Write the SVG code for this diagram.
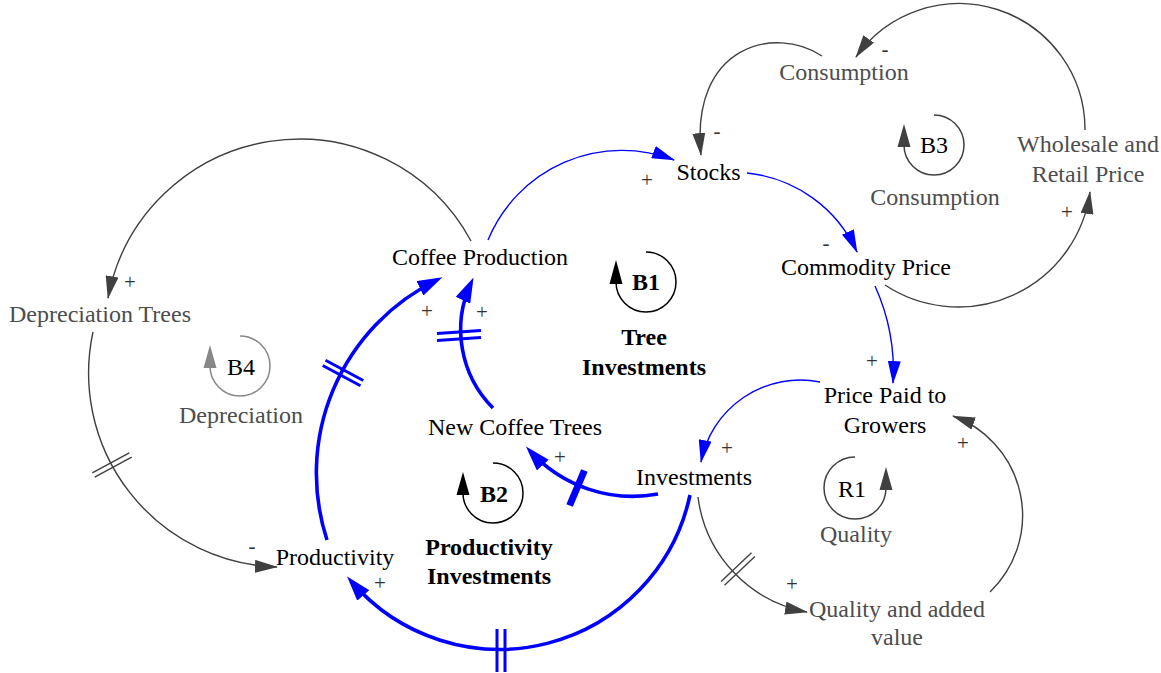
<svg xmlns="http://www.w3.org/2000/svg" width="1161" height="673" viewBox="0 0 1161 673">
<style>
text{font-family:"Liberation Serif","Times New Roman",serif;font-size:24px;text-anchor:middle}
.n{fill:#000}
.g{fill:#4d4d4d}
.b{font-weight:bold;fill:#000}
.pol{font-size:21px;fill:#333}
.cg{fill:none;stroke:#404040;stroke-width:1.4}
.cb{fill:none;stroke:#0000ff;stroke-width:1.4}
.ct{fill:none;stroke:#0000ff;stroke-width:3.6}
.hg{stroke:#404040;stroke-width:1.4}
.hb{stroke:#0000ff;stroke-width:3}
.lp{fill:none;stroke-width:1.5}
</style>
<defs>
<marker id="ag" markerUnits="userSpaceOnUse" markerWidth="23" markerHeight="13" refX="22" refY="6.5" orient="auto"><path d="M0,0 L23,6.5 L0,13 z" fill="#404040"/></marker>
<marker id="ab" markerUnits="userSpaceOnUse" markerWidth="23" markerHeight="13" refX="22" refY="6.5" orient="auto"><path d="M0,0 L23,6.5 L0,13 z" fill="#0000ff"/></marker>
<marker id="at" markerUnits="userSpaceOnUse" markerWidth="25" markerHeight="16" refX="19" refY="8" orient="auto"><path d="M0,0 L25,8 L0,16 z" fill="#0000ff"/></marker>
</defs>

<g id="connectors">
<path class="cg" d="M822,56 C775,25 690,45 701,155" marker-end="url(#ag)"/>
<path class="cg" d="M1085,130 A126,126 0 0 0 856,57" marker-end="url(#ag)"/>
<path class="cg" d="M885,285 A133,133 0 0 0 1090,192" marker-end="url(#ag)"/>
<path class="cg" d="M471,241 A195,195 0 0 0 108,298" marker-end="url(#ag)"/>
<path class="cg" d="M93,332 A194,194 0 0 0 277,567" marker-end="url(#ag)"/>
<path class="cg" d="M698,497 A134,134 0 0 0 807,612" marker-end="url(#ag)"/>
<path class="cg" d="M990,592 A106,106 0 0 0 953,416" marker-end="url(#ag)"/>
<path class="cb" d="M488,240 A145,145 0 0 1 674,160" marker-end="url(#ab)"/>
<path class="cb" d="M747,173 A136,136 0 0 1 857,252" marker-end="url(#ab)"/>
<path class="cb" d="M875,286 A205,205 0 0 1 893,383" marker-end="url(#ab)"/>
<path class="cb" d="M820,382 A101,101 0 0 0 701,462" marker-end="url(#ab)"/>
<path class="ct" d="M327,540 A215,215 0 0 1 437,280" marker-end="url(#at)"/>
<path class="ct" d="M493,408 A111,111 0 0 1 471,283" marker-end="url(#at)"/>
<path class="ct" d="M658,494 A139,139 0 0 1 530,451" marker-end="url(#at)"/>
<path class="ct" d="M690,495 A195,195 0 0 1 351,581" marker-end="url(#at)"/>
<!-- delay marks -->
<line class="hg" x1="129.3" y1="452.8" x2="92.3" y2="472.8"/>
<line class="hg" x1="131.7" y1="457.2" x2="94.7" y2="477.2"/>
<line class="hg" x1="751.5" y1="552.8" x2="721.1" y2="581.6"/>
<line class="hg" x1="754.9" y1="556.4" x2="724.5" y2="585.2"/>
<line class="hb" x1="363.3" y1="380.5" x2="325.5" y2="360.3"/>
<line class="hb" x1="360.5" y1="385.7" x2="322.7" y2="365.5"/>
<line class="hb" x1="437" y1="333.5" x2="481" y2="330.5"/>
<line class="hb" x1="437" y1="340.5" x2="481" y2="337.5"/>
<line stroke="#0000ff" stroke-width="7" x1="584.4" y1="470.5" x2="569.6" y2="505.5"/>
<line class="hb" x1="497" y1="629" x2="497" y2="672"/>
<line class="hb" x1="505" y1="629" x2="505" y2="672"/>
<!-- polarities -->
<text class="pol" x="717" y="138">-</text>
<text class="pol" x="885" y="56">-</text>
<text class="pol" x="1067" y="219">+</text>
<text class="pol" x="130" y="289">+</text>
<text class="pol" x="252" y="553">-</text>
<text class="pol" x="792" y="591">+</text>
<text class="pol" x="963" y="450">+</text>
<text class="pol" x="647" y="187">+</text>
<text class="pol" x="826" y="250">-</text>
<text class="pol" x="872" y="368">+</text>
<text class="pol" x="727" y="455">+</text>
<text class="pol" x="427" y="318">+</text>
<text class="pol" x="482" y="319">+</text>
<text class="pol" x="560" y="464">+</text>
<text class="pol" x="380" y="590">+</text>
</g>

<g id="stocks"><text class="n" x="708.5" y="180">Stocks</text></g>
<g id="consumption"><text class="g" x="844" y="80">Consumption</text></g>
<g id="wholesale-retail-price"><text class="g" x="1088" y="152">Wholesale and</text><text class="g" x="1088" y="182">Retail Price</text></g>
<g id="commodity-price"><text class="n" x="866" y="275">Commodity Price</text></g>
<g id="coffee-production"><text class="n" x="480" y="265">Coffee Production</text></g>
<g id="depreciation-trees"><text class="g" x="100" y="322">Depreciation Trees</text></g>
<g id="price-paid-to-growers"><text class="n" x="885" y="403">Price Paid to</text><text class="n" x="885" y="433">Growers</text></g>
<g id="new-coffee-trees"><text class="n" x="515" y="435">New Coffee Trees</text></g>
<g id="investments"><text class="n" x="694" y="485">Investments</text></g>
<g id="productivity"><text class="n" x="335" y="565">Productivity</text></g>
<g id="quality-added-value"><text class="g" x="897" y="617">Quality and added</text><text class="g" x="897" y="645">value</text></g>

<g id="loop-b1">
<path class="lp" stroke="#000" d="M646,252 A30,30 0 1 1 616,282"/>
<polygon points="609.5,284 622.5,284 616,260" fill="#000"/>
<text class="b" x="646" y="290">B1</text>
<text class="b" x="644" y="345">Tree</text>
<text class="b" x="644" y="375">Investments</text>
</g>
<g id="loop-b2">
<path class="lp" stroke="#000" d="M493,463 A30,30 0 1 1 463,493"/>
<polygon points="456.5,495 469.5,495 463,472" fill="#000"/>
<text class="b" x="494" y="502">B2</text>
<text class="b" x="489" y="555">Productivity</text>
<text class="b" x="489" y="584">Investments</text>
</g>
<g id="loop-b3">
<path class="lp" stroke="#404040" d="M934,115 A30,30 0 1 1 904,145"/>
<polygon points="897.5,147 910.5,147 904,124" fill="#404040"/>
<text class="n" x="934" y="153">B3</text>
<text class="g" x="935" y="205">Consumption</text>
</g>
<g id="loop-b4">
<path class="lp" stroke="#888" d="M240,336 A30,30 0 1 1 210,366"/>
<polygon points="203.5,368 216.5,368 210,345" fill="#888"/>
<text class="n" x="241" y="375">B4</text>
<text class="g" x="241" y="423">Depreciation</text>
</g>
<g id="loop-r1">
<path class="lp" stroke="#404040" d="M855,457 A31,31 0 1 0 886,488"/>
<polygon points="879.5,490 892.5,490 886,467" fill="#404040"/>
<text class="n" x="852" y="497">R1</text>
<text class="g" x="856" y="542">Quality</text>
</g>
</svg>
